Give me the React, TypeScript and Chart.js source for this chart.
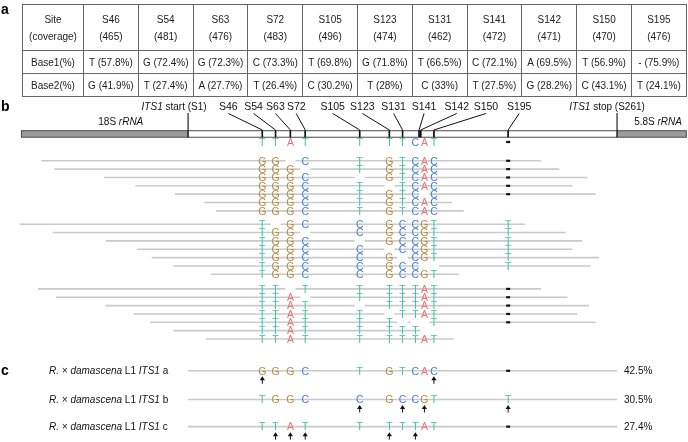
import React, { useEffect, useRef } from "react";
import { Chart, registerables } from "chart.js";

Chart.register(...registerables);

const FONT = '"Liberation Sans", Arial, Helvetica, sans-serif';

// ---- Panel a: table data ----
const SITES = [46, 54, 63, 72, 105, 123, 131, 141, 142, 150, 195];
const COVERAGE = [465, 481, 476, 483, 496, 474, 462, 472, 471, 470, 476];
const BASE1_NT = ["T", "G", "G", "C", "T", "G", "T", "C", "A", "T", "-"];
const BASE1_PCT = [57.8, 72.4, 72.3, 73.3, 69.8, 71.8, 66.5, 72.1, 69.5, 56.9, 75.9];
const BASE2_NT = ["G", "T", "A", "T", "C", "T", "C", "T", "G", "C", "T"];
const BASE2_PCT = [41.9, 27.4, 27.7, 26.4, 30.2, 28, 33, 27.5, 28.2, 43.1, 24.1];

// ---- Panel b: gene model ----
const REFERENCE = "TTATTTTCAT-";
const RRNA18S_START = -100;
const ITS1_START = 1;
const ITS1_STOP = 261;
const RRNA58S_END = 303;

// reads: start / end (bp) and base at each site
// '_' = site missing inside read, '.' = site not covered
const GROUP1_START = [-88, -80, -50, -31, -7, 11, 18];
const GROUP1_END = [215, 226, 243, 234, 248, 161, 168];
const GROUP1_BASES = ["GG_CTGTCAC-", "GGG_TGTCAC-", "GGGC_GTCAC-", "GGGCT_TCAC-", "GGGCTGTC_C-", "GGGCTGTCAC.", "GGGCTGTCAC."];

const GROUP2_START = [-101, -81, -49, -30, -21, -8, 15];
const GROUP2_END = [205, 230, 240, 234, 250, 245, 165];
const GROUP2_BASES = ["T_GCCGCCGTT", "TGG_CGCCGTT", "TGGC_GCCGTT", "TGGCC_CCGTT", "TGGCCG_CGTT", "TGGCCGCC__T", "TGGCCGCCGT."];

const GROUP3_START = [-90, -79, -49, -32, -22, -8, 12];
const GROUP3_END = [215, 231, 244, 237, 248, 142, 162];
const GROUP3_BASES = ["TT_TTTTTAT-", "TTA_TTTTAT-", "TTAT_TTTAT-", "TTATT_TTAT-", "TTATTT___T-", "TTATTTTT...", "TTATTTTTAT."];

// ---- Panel c: haplotypes ----
const HAPLO_NAMES = ["a", "b", "c"];
const HAPLO_BASES = ["GGGCTGTCAC-", "TGGCCGCCGTT", "TTATTTTTAT-"];
const HAPLO_PCT = [42.5, 30.5, 27.4];
const HAPLO_ARROWS = [[46, 150], [105, 131, 142, 195], [54, 63, 72, 123, 141]];

// ---- layout (not data) ----
const X_MIN = -113;
const X_MAX = 304;
const Y_MIN = -19.26;
const Y_MAX = 33.69;
const GROUP_OFFSETS = [0, 7.6, 15.35];
const BAR_Y = -3.21;
const REF_Y = -2.25;
const HAPLO_Y = [25.16, 28.6, 31.85];
const LABEL_SHIFT = [-34, -22, -15, -9, -27, -27, -9, 5, 36, 52, 11];

const COLORS: Record<string, string> = {
  T: "#3cc6a0",
  G: "#b68a3e",
  C: "#4180d4",
  A: "#ee7272",
};
const READ_COLOR = "#cacaca";

const GROUPS = [
  { start: GROUP1_START, end: GROUP1_END, bases: GROUP1_BASES },
  { start: GROUP2_START, end: GROUP2_END, bases: GROUP2_BASES },
  { start: GROUP3_START, end: GROUP3_END, bases: GROUP3_BASES },
];

function drawRich(ctx: CanvasRenderingContext2D, segs: [string, boolean][], x: number, y: number, size: number, align: "left" | "center") {
  const widths = segs.map(([t, it]) => {
    ctx.font = `${it ? "italic " : ""}${size}px ${FONT}`;
    return ctx.measureText(t).width;
  });
  const total = widths.reduce((a, b) => a + b, 0);
  let cx = align === "center" ? x - total / 2 : x;
  ctx.textAlign = "left";
  segs.forEach(([t, it], i) => {
    ctx.font = `${it ? "italic " : ""}${size}px ${FONT}`;
    ctx.fillText(t, cx, y);
    cx += widths[i];
  });
}

const seqPlugin = {
  id: "seqPlugin",
  afterDatasetsDraw(chart: any) {
    const ctx: CanvasRenderingContext2D = chart.ctx;
    const xs = chart.scales.x;
    const ys = chart.scales.y;
    const X = (v: number) => xs.getPixelForValue(v);
    const Y = (v: number) => ys.getPixelForValue(v);

    const colX = SITES.map((s, i) => {
      const prev = i > 0 ? SITES[i - 1] : -Infinity;
      const next = i < SITES.length - 1 ? SITES[i + 1] : Infinity;
      if (next - s <= 2) return (X(s) + X(next)) / 2 - 4.5;
      if (s - prev <= 2) return (X(prev) + X(s)) / 2 + 4.5;
      return X(s);
    });

    const drawSeq = (seq: string, y: number) => {
      for (let i = 0; i < seq.length; i++) {
        const c = seq[i];
        const x = colX[i];
        if (c === ".") continue;
        if (c === "_") {
          ctx.fillStyle = "#ffffff";
          ctx.fillRect(x - 5, y - 2.5, 10, 5);
          continue;
        }
        if (c === "-") {
          ctx.fillStyle = "#111111";
          ctx.fillRect(x - 2, y - 1.1, 4, 2.2);
          continue;
        }
        ctx.fillStyle = COLORS[c] || "#000";
        ctx.font = `10.5px ${FONT}`;
        ctx.textAlign = "center";
        ctx.textBaseline = "alphabetic";
        ctx.fillText(c, x, y + 3.8);
      }
    };

    ctx.save();
    ctx.textBaseline = "alphabetic";

    // panel labels
    ctx.fillStyle = "#000";
    ctx.font = `bold 14px ${FONT}`;
    ctx.textAlign = "left";
    ctx.fillText("a", 1, 13.5);
    ctx.fillText("b", 1, 111);
    ctx.fillText("c", 1, 375);

    // gene bar
    const yb = Y(BAR_Y);
    const bh = 6.5;
    const top = yb - bh / 2;
    ctx.lineWidth = 1;
    ctx.strokeStyle = "#4a4a4a";
    ctx.fillStyle = "#9c9c9c";
    ctx.fillRect(X(RRNA18S_START), top, X(ITS1_START) - X(RRNA18S_START), bh);
    ctx.strokeRect(X(RRNA18S_START), top, X(ITS1_START) - X(RRNA18S_START), bh);
    ctx.fillRect(X(ITS1_STOP), top, X(RRNA58S_END) - X(ITS1_STOP), bh);
    ctx.strokeRect(X(ITS1_STOP), top, X(RRNA58S_END) - X(ITS1_STOP), bh);
    ctx.fillStyle = "#ffffff";
    ctx.fillRect(X(ITS1_START), top, X(ITS1_STOP) - X(ITS1_START), bh);
    ctx.strokeRect(X(ITS1_START), top, X(ITS1_STOP) - X(ITS1_START), bh);

    // region labels
    ctx.fillStyle = "#111";
    drawRich(ctx, [["18S ", false], ["rRNA", true]], (X(RRNA18S_START) + X(ITS1_START)) / 2 + 16, yb - 9, 10, "center");
    drawRich(ctx, [["5.8S ", false], ["rRNA", true]], X(ITS1_STOP) + 41, yb - 9, 10, "center");

    // start / stop markers
    ctx.strokeStyle = "#222";
    ctx.lineWidth = 1.2;
    [ITS1_START, ITS1_STOP].forEach((p) => {
      ctx.beginPath();
      ctx.moveTo(X(p), yb - 21);
      ctx.lineTo(X(p), yb + bh / 2);
      ctx.stroke();
    });
    ctx.fillStyle = "#111";
    drawRich(ctx, [["ITS1", true], [" start (S" + ITS1_START + ")", false]], X(ITS1_START) - 14, yb - 24, 10, "center");
    drawRich(ctx, [["ITS1", true], [" stop (S" + ITS1_STOP + ")", false]], X(ITS1_STOP) - 10, yb - 24, 10, "center");

    // site ticks + labels
    SITES.forEach((s, i) => {
      const tx = X(s);
      const lx = tx + LABEL_SHIFT[i];
      ctx.strokeStyle = "#111";
      ctx.lineWidth = 1;
      ctx.beginPath();
      ctx.moveTo(lx, yb - 20.5);
      ctx.lineTo(tx, yb - 4);
      ctx.lineTo(tx, yb + bh / 2);
      ctx.stroke();
      ctx.lineWidth = 1.6;
      ctx.beginPath();
      ctx.moveTo(tx, top);
      ctx.lineTo(tx, top + bh);
      ctx.stroke();
      ctx.fillStyle = "#111";
      ctx.font = `10.5px ${FONT}`;
      ctx.textAlign = "center";
      ctx.fillText("S" + s, lx, yb - 24);
    });

    // reference letters
    drawSeq(REFERENCE, Y(REF_Y));

    // reads letters
    GROUPS.forEach((g, gi) => {
      g.bases.forEach((seq, ri) => drawSeq(seq, Y(GROUP_OFFSETS[gi] + ri)));
    });

    // haplotypes
    HAPLO_BASES.forEach((seq, h) => {
      const y = Y(HAPLO_Y[h]);
      drawSeq(seq, y);
      ctx.fillStyle = "#111";
      drawRich(
        ctx,
        [["R. × damascena", true], [" L1 ", false], ["ITS1", true], [" " + HAPLO_NAMES[h], false]],
        49,
        y + 3.5,
        10,
        "left"
      );
      ctx.font = `10px ${FONT}`;
      ctx.textAlign = "left";
      ctx.fillText(HAPLO_PCT[h].toFixed(1) + "%", 624, y + 3.5);
      // arrows
      ctx.strokeStyle = "#111";
      ctx.fillStyle = "#111";
      ctx.lineWidth = 1;
      HAPLO_ARROWS[h].forEach((s) => {
        const x = colX[SITES.indexOf(s)];
        ctx.beginPath();
        ctx.moveTo(x, y + 8);
        ctx.lineTo(x, y + 13);
        ctx.stroke();
        ctx.beginPath();
        ctx.moveTo(x, y + 5.5);
        ctx.lineTo(x - 2.6, y + 9.5);
        ctx.lineTo(x + 2.6, y + 9.5);
        ctx.closePath();
        ctx.fill();
      });
    });

    ctx.restore();
  },
};

const cell: React.CSSProperties = {
  border: "1px solid #666",
  textAlign: "center",
  padding: 0,
  verticalAlign: "middle",
  whiteSpace: "nowrap",
};

export default function App() {
  const ref = useRef<HTMLCanvasElement>(null);

  useEffect(() => {
    if (!ref.current) return;
    const datasets: any[] = [];
    GROUPS.forEach((g, gi) => {
      g.start.forEach((s, ri) => {
        const y = GROUP_OFFSETS[gi] + ri;
        datasets.push({
          type: "line",
          data: [{ x: s, y }, { x: g.end[ri], y }],
          borderColor: READ_COLOR,
          borderWidth: 1.6,
          pointRadius: 0,
          fill: false,
        });
      });
    });
    HAPLO_Y.forEach((y) => {
      datasets.push({
        type: "line",
        data: [{ x: ITS1_START, y }, { x: ITS1_STOP, y }],
        borderColor: READ_COLOR,
        borderWidth: 1.6,
        pointRadius: 0,
        fill: false,
      });
    });
    const chart = new Chart(ref.current, {
      type: "scatter",
      data: { datasets },
      options: {
        animation: false,
        responsive: false,
        events: [],
        layout: { padding: 0 },
        plugins: { legend: { display: false }, tooltip: { enabled: false } },
        scales: {
          x: { type: "linear", min: X_MIN, max: X_MAX, display: false },
          y: { type: "linear", min: Y_MIN, max: Y_MAX, reverse: true, display: false },
        },
      },
      plugins: [seqPlugin],
    } as any);
    return () => chart.destroy();
  }, []);

  return (
    <div style={{ position: "absolute", left: 0, top: 0, width: 688, height: 442, background: "#fff" }}>
      <canvas ref={ref} width={688} height={442} style={{ position: "absolute", left: 0, top: 0 }} />
      <table
        style={{
          position: "absolute",
          left: 22,
          top: 4,
          width: 664,
          borderCollapse: "collapse",
          tableLayout: "fixed",
          fontFamily: FONT,
          fontSize: 10,
          color: "#222",
        }}
      >
        <colgroup>
          <col style={{ width: 61 }} />
          {SITES.map((s) => (
            <col key={s} style={{ width: 54.8 }} />
          ))}
        </colgroup>
        <tbody>
          <tr style={{ height: 46 }}>
            <td style={{ ...cell, lineHeight: "17px" }}>
              Site
              <br />
              (coverage)
            </td>
            {SITES.map((s, i) => (
              <td key={s} style={{ ...cell, lineHeight: "17px" }}>
                S{s}
                <br />({COVERAGE[i]})
              </td>
            ))}
          </tr>
          <tr style={{ height: 23 }}>
            <td style={cell}>Base1(%)</td>
            {SITES.map((s, i) => (
              <td key={s} style={cell}>
                {BASE1_NT[i]} ({BASE1_PCT[i]}%)
              </td>
            ))}
          </tr>
          <tr style={{ height: 23 }}>
            <td style={cell}>Base2(%)</td>
            {SITES.map((s, i) => (
              <td key={s} style={cell}>
                {BASE2_NT[i]} ({BASE2_PCT[i]}%)
              </td>
            ))}
          </tr>
        </tbody>
      </table>
    </div>
  );
}
